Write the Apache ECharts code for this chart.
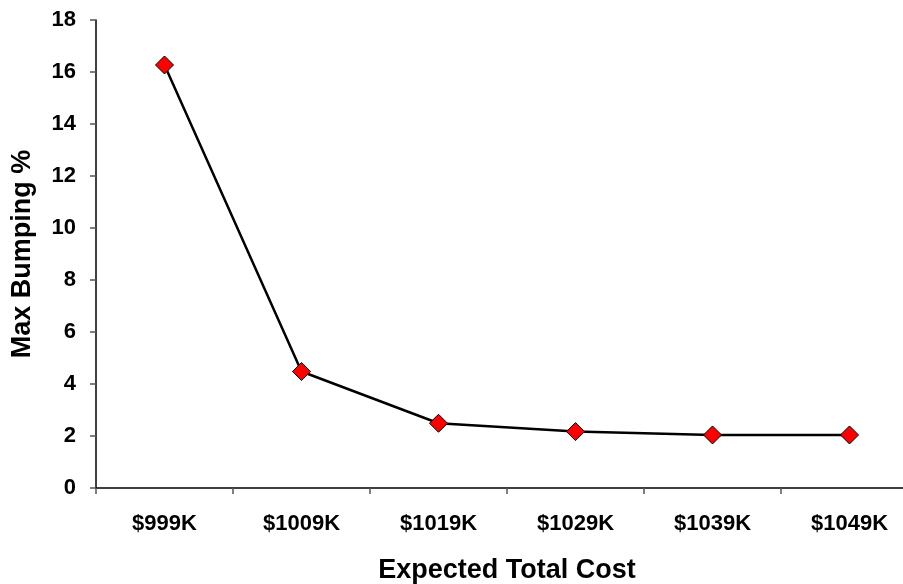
<!DOCTYPE html>
<html>
<head>
<meta charset="utf-8">
<script src="https://cdn.jsdelivr.net/npm/echarts@6/dist/echarts.min.js"></script>
<style>
  html, body { margin: 0; padding: 0; background: #fff; }
  #chart { width: 903px; height: 584px; }
</style>
</head>
<body>
<div id="chart"></div>
<script>
// Expected total cost buckets and the resulting maximum bumping percentage
const costLabels = ['$999K', '$1009K', '$1019K', '$1029K', '$1039K', '$1049K'];
const maxBumping = [16.27, 4.48, 2.49, 2.17, 2.04, 2.04];
const yTicks = { min: 0, max: 18, interval: 2 };

const font = 'Liberation Sans, Arial, sans-serif';
const chart = echarts.init(document.getElementById('chart'), null, { renderer: 'canvas' });

chart.setOption({
  backgroundColor: '#ffffff',
  animation: false,
  // the last category band runs past the right edge of the canvas
  grid: { left: 96, top: 20, right: -15, bottom: 96, outerBoundsMode: 'none', containLabel: false },
  xAxis: {
    type: 'category',
    data: costLabels,
    boundaryGap: true,
    name: 'Expected Total Cost',
    nameLocation: 'middle',
    nameGap: 69,
    nameTextStyle: { fontFamily: font, fontWeight: 'bold', fontSize: 27, color: '#000' },
    axisLine: { lineStyle: { color: '#000', width: 1.5 } },
    axisTick: { show: true, inside: false, length: 6, alignWithLabel: false, lineStyle: { color: '#555', width: 1.5 } },
    axisLabel: { margin: 25, fontFamily: font, fontWeight: 'bold', fontSize: 22, color: '#000' },
    splitLine: { show: false }
  },
  yAxis: {
    type: 'value',
    min: yTicks.min,
    max: yTicks.max,
    interval: yTicks.interval,
    name: 'Max Bumping %',
    nameLocation: 'middle',
    nameGap: 60,
    nameTextStyle: { fontFamily: font, fontWeight: 'bold', fontSize: 27, color: '#000' },
    axisLine: { show: true, lineStyle: { color: '#000', width: 1.5 } },
    axisTick: { show: true, inside: false, length: 6, lineStyle: { color: '#555', width: 1.5 } },
    axisLabel: { margin: 20, fontFamily: font, fontWeight: 'bold', fontSize: 22, color: '#000' },
    splitLine: { show: false }
  },
  series: [{
    type: 'line',
    data: maxBumping,
    symbol: 'diamond',
    symbolSize: 18,
    lineStyle: { color: '#000', width: 2.5 },
    itemStyle: { color: '#ff0000', borderColor: '#000', borderWidth: 1 },
    emphasis: { disabled: true }
  }]
});
</script>
</body>
</html>
